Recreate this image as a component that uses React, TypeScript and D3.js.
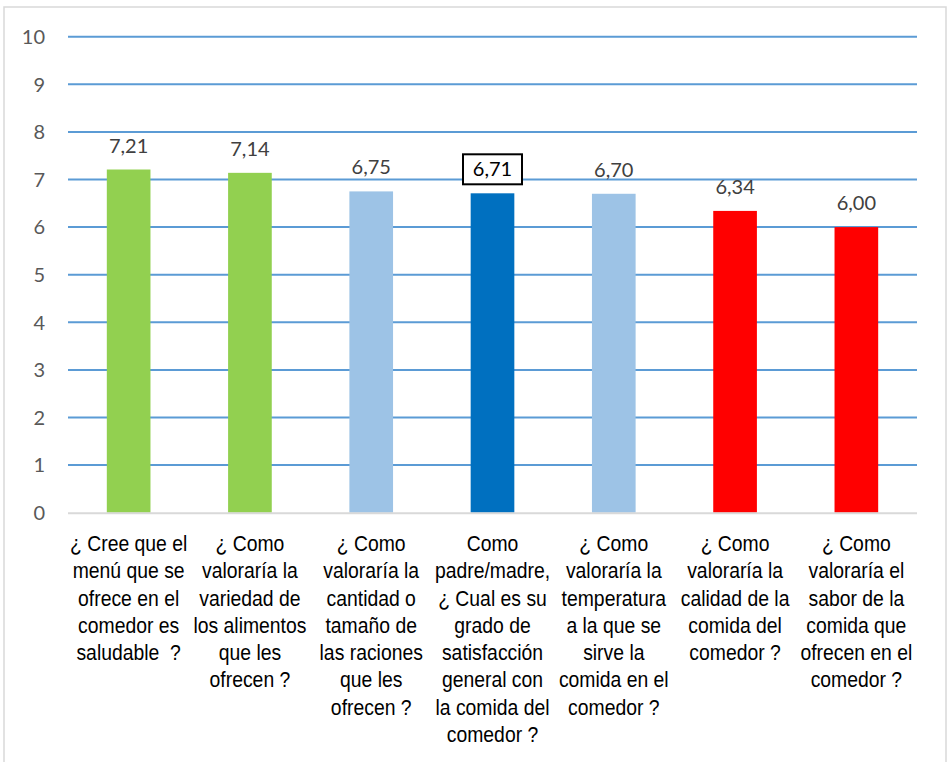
import React from "react";
import * as d3 from "d3";

const categories: string[][] = [
  ["¿ Cree que el", "menú que se", "ofrece en el", "comedor es", "saludable  ?"],
  ["¿ Como", "valoraría la", "variedad de", "los alimentos", "que les", "ofrecen ?"],
  ["¿ Como", "valoraría la", "cantidad o", "tamaño de", "las raciones", "que les", "ofrecen ?"],
  ["Como", "padre/madre,", "¿ Cual es su", "grado de", "satisfacción", "general con", "la comida del", "comedor ?"],
  ["¿ Como", "valoraría la", "temperatura", "a la que se", "sirve la", "comida en el", "comedor ?"],
  ["¿ Como", "valoraría la", "calidad de la", "comida del", "comedor ?"],
  ["¿ Como", "valoraría el", "sabor de la", "comida que", "ofrecen en el", "comedor ?"],
];
const values: number[] = [7.21, 7.14, 6.75, 6.71, 6.7, 6.34, 6.0];
const barColors: string[] = ["#92d050", "#92d050", "#9dc3e6", "#0070c0", "#9dc3e6", "#ff0000", "#ff0000"];
const highlighted: boolean[] = [false, false, false, true, false, false, false];
const yTicks: number[] = [0, 1, 2, 3, 4, 5, 6, 7, 8, 9, 10];

const W = 949;
const H = 762;
const left = 68;
const right = 917;
const top = 36.7;
const bottom = 512.7;

export default function App() {
  const x = d3
    .scaleBand<number>()
    .domain(values.map((_, i) => i))
    .range([left, right])
    .paddingInner(0.64)
    .paddingOuter(0.32);
  const y = d3.scaleLinear().domain([0, 10]).range([bottom, top]);
  const fmt = (v: number) => v.toFixed(2).replace(".", ",");

  return (
    <svg
      width={W}
      height={H}
      style={{ position: "absolute", left: 0, top: 0, background: "#fff" }}
    >
      <rect x={4} y={7} width={942} height={770} fill="#fff" stroke="#d9d9d9" strokeWidth={1.5} />
      {yTicks.map((t) =>
        t === 0 ? null : (
          <line key={"g" + t} x1={left} x2={right} y1={y(t)} y2={y(t)} stroke="#5b9bd5" strokeWidth={2} />
        )
      )}
      {yTicks.map((t) => (
        <text
          key={"t" + t}
          x={45}
          y={y(t)}
          dy="0.36em"
          textAnchor="end"
          fontFamily="Lato, 'Noto Sans', sans-serif"
          fontSize={20}
          fill="#595959"
        >
          {t}
        </text>
      ))}
      {values.map((v, i) => (
        <rect
          key={"b" + i}
          x={x(i)!}
          y={y(v)}
          width={x.bandwidth()}
          height={y(0) - y(v)}
          fill={barColors[i]}
        />
      ))}
      <line x1={left} x2={right} y1={y(0) + 0.5} y2={y(0) + 0.5} stroke="#d9d9d9" strokeWidth={2} />
      {values.map((v, i) => {
        const cx = x(i)! + x.bandwidth() / 2;
        const ty = y(v) - 17;
        return (
          <g key={"v" + i}>
            {highlighted[i] && (
              <rect x={cx - 29.5} y={ty - 22} width={59} height={30} fill="#fff" stroke="#000" strokeWidth={2} />
            )}
            <text
              x={cx}
              y={ty}
              textAnchor="middle"
              fontFamily="Lato, 'Noto Sans', sans-serif"
              fontSize={20}
              fill={highlighted[i] ? "#000" : "#404040"}
            >
              {fmt(v)}
            </text>
          </g>
        );
      })}
      {categories.map((lines, i) => {
        const cx = x(i)! + x.bandwidth() / 2;
        return (
          <g key={"c" + i} transform={`translate(${cx},551) scale(0.88,1)`}>
            {lines.map((ln, j) => (
              <text
                key={j}
                x={0}
                y={j * 27.3}
                textAnchor="middle"
                fontFamily="'Liberation Sans', Arial, sans-serif"
                fontSize={22}
                fill="#000"
                style={{ whiteSpace: "pre" }}
              >
                {ln}
              </text>
            ))}
          </g>
        );
      })}
    </svg>
  );
}
